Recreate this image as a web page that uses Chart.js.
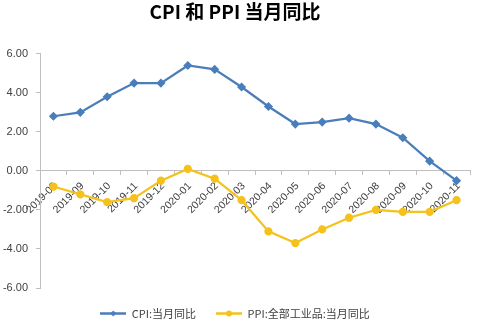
<!DOCTYPE html>
<html>
<head>
<meta charset="utf-8">
<script src="https://cdn.jsdelivr.net/npm/chart.js@4"></script>
<style>
  body { margin: 0; background: #fff; }
  #wrap { width: 477px; height: 324px; }
</style>
</head>
<body>
<div id="wrap"><canvas id="cpiPpi"></canvas></div>
<script>
// 月份与数据
const meses = ['2019-08', '2019-09', '2019-10', '2019-11', '2019-12', '2020-01', '2020-02', '2020-03',
               '2020-04', '2020-05', '2020-06', '2020-07', '2020-08', '2020-09', '2020-10', '2020-11'];
const cpi = [2.8, 3.0, 3.8, 4.5, 4.5, 5.4, 5.2, 4.3, 3.3, 2.4, 2.5, 2.7, 2.4, 1.7, 0.5, -0.5];
const ppi = [-0.8, -1.2, -1.6, -1.4, -0.5, 0.1, -0.4, -1.5, -3.1, -3.7, -3.0, -2.4, -2.0, -2.1, -2.1, -1.5];
const nomes = ['CPI:当月同比', 'PPI:全部工业品:当月同比'];
const yTicks = [-6, -4, -2, 0, 2, 4, 6];

const corCpi = '#4a7ebb';
const corPpi = '#f4c21b';
const cinza = '#bfbfbf';

// legenda: linha com marcador no meio
function iconeLegenda(cor, estilo) {
    const c = document.createElement('canvas');
    c.width = 26; c.height = 9;
    const g = c.getContext('2d');
    g.strokeStyle = cor; g.fillStyle = cor; g.lineWidth = 2.5;
    g.beginPath(); g.moveTo(0, 4.5); g.lineTo(26, 4.5); g.stroke();
    g.beginPath();
    if (estilo === 'rectRot') {
        g.moveTo(13, 1.5); g.lineTo(16, 4.5); g.lineTo(13, 7.5); g.lineTo(10, 4.5); g.closePath();
    } else {
        g.arc(13, 4.5, 3, 0, Math.PI * 2);
    }
    g.fill();
    return c;
}
const icones = [iconeLegenda(corCpi, 'rectRot'), iconeLegenda(corPpi, 'circle')];

const ctx = document.getElementById('cpiPpi').getContext('2d');
const grafico = new Chart(ctx, {
    type: 'line',
    data: {
        labels: meses,
        datasets: [{
            label: nomes[0],
            data: cpi,
            borderColor: corCpi,
            backgroundColor: corCpi,
            borderWidth: 2.25,
            pointStyle: 'rectRot',
            pointRadius: 3,
            tension: 0
        }, {
            label: nomes[1],
            data: ppi,
            borderColor: corPpi,
            backgroundColor: corPpi,
            borderWidth: 2.25,
            pointStyle: 'circle',
            pointRadius: 3,
            tension: 0
        }]
    },
    options: {
        responsive: true,
        maintainAspectRatio: false,
        animation: false,
        layout: { padding: { left: 0, right: 7, top: 0, bottom: -5 } },
        plugins: {
            title: {
                display: true,
                text: 'CPI 和 PPI 当月同比',
                color: '#000',
                font: { family: '"Noto Sans CJK SC", sans-serif', size: 19, weight: 'bold' },
                padding: { top: 0, bottom: 31 }
            },
            legend: {
                position: 'bottom',
                labels: {
                    usePointStyle: true,
                    pointStyleWidth: 26,
                    padding: 20,
                    color: '#404040',
                    font: { family: '"Noto Sans CJK SC", sans-serif', size: 11 },
                    generateLabels: chart => chart.data.datasets.map((ds, i) => ({
                        text: ds.label,
                        pointStyle: icones[i],
                        fillStyle: 'transparent',
                        strokeStyle: 'transparent',
                        lineWidth: 0,
                        fontColor: '#404040',
                        hidden: false,
                        datasetIndex: i
                    }))
                }
            },
            tooltip: { enabled: false }
        },
        scales: {
            x: {
                position: { y: 0 },
                offset: true,
                grid: { offset: true, drawOnChartArea: false, drawTicks: true, tickLength: 4, color: cinza },
                border: { display: true, color: cinza },
                ticks: {
                    color: '#404040',
                    font: { family: '"Liberation Sans", Arial, sans-serif', size: 10.5 },
                    minRotation: 45,
                    maxRotation: 45,
                    autoSkip: false,
                    padding: 5,
                    labelOffset: 2
                }
            },
            y: {
                min: -6,
                max: 6,
                afterFit: s => { s.width = 40; },
                afterBuildTicks: s => { s.ticks = yTicks.map(v => ({ value: v })); },
                grid: { drawOnChartArea: false, drawTicks: true, tickLength: 4, color: cinza },
                border: { display: true, color: cinza },
                ticks: {
                    color: '#404040',
                    padding: 8,
                    font: { family: '"Liberation Sans", Arial, sans-serif', size: 11 },
                    callback: v => v.toFixed(2)
                }
            }
        }
    }
});
</script>
</body>
</html>
